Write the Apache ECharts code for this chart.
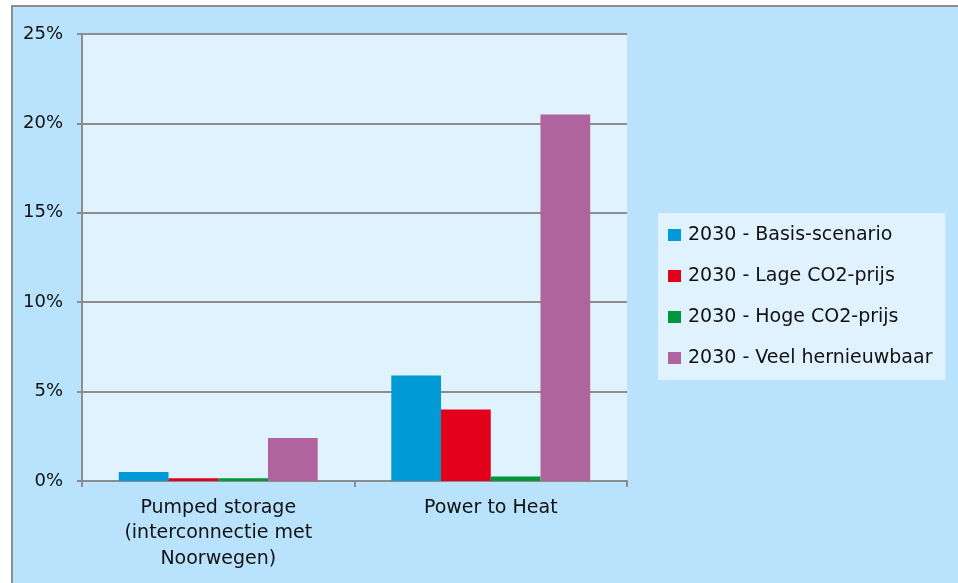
<!DOCTYPE html>
<html>
<head>
<meta charset="utf-8">
<script src="https://cdn.jsdelivr.net/npm/echarts@6/dist/echarts.min.js"></script>
<style>
  html, body { margin: 0; padding: 0; background: #ffffff; }
  #chart { width: 958px; height: 583px; }
</style>
</head>
<body>
<div id="chart"></div>
<script>
// Share of flexibility options per scenario (percent)
const categories = ['Pumped storage\n(interconnectie met\nNoorwegen)', 'Power to Heat'];
const seriesNames = [
  '2030 - Basis-scenario',
  '2030 - Lage CO2-prijs',
  '2030 - Hoge CO2-prijs',
  '2030 - Veel hernieuwbaar'
];
const basis = [0.5, 5.9];
const lageCO2 = [0.15, 4.0];
const hogeCO2 = [0.15, 0.25];
const veelHernieuwbaar = [2.4, 20.5];
const yTicks = { min: 0, max: 25, interval: 5 };

const colors = ['#009ad6', '#e2001a', '#00963c', '#b0649e'];
const values = [basis, lageCO2, hogeCO2, veelHernieuwbaar];
const FONT = 'DejaVu Sans';

const chart = echarts.init(document.getElementById('chart'), null, { renderer: 'canvas' });

chart.setOption({
  animation: false,
  backgroundColor: '#ffffff',
  graphic: [
    {
      // outer chart panel fill
      type: 'rect',
      z: -10,
      silent: true,
      shape: { x: 12, y: 6, width: 1100, height: 700 },
      style: { fill: '#b9e3fd' }
    },
    {
      // panel frame: only the top and left edges fall inside the canvas
      type: 'polyline',
      z: -9,
      silent: true,
      shape: { points: [[12, 700], [12, 6], [1100, 6]] },
      style: { fill: null, stroke: '#8c8c8c', lineWidth: 2 }
    }
  ],
  grid: {
    left: 82, right: 331, top: 34, bottom: 102,
    show: true,
    backgroundColor: '#e0f2fe',
    borderWidth: 0
  },
  legend: {
    orient: 'vertical',
    left: 658,
    top: 213,
    padding: [12, 13, 12, 10],
    backgroundColor: '#e0f2fe',
    itemWidth: 13,
    itemHeight: 12,
    itemGap: 21,
    icon: 'rect',
    data: seriesNames,
    textStyle: { fontFamily: FONT, fontSize: 19, color: '#111', lineHeight: 20, padding: [0, 0, 0, 2] }
  },
  xAxis: {
    type: 'category',
    data: categories,
    axisLine: { show: true, lineStyle: { color: '#8c8c8c', width: 2 } },
    axisTick: { show: true, length: 6, lineStyle: { color: '#8c8c8c', width: 2 } },
    axisLabel: {
      fontFamily: FONT, fontSize: 19, color: '#111',
      lineHeight: 25.5, margin: 14, interval: 0
    }
  },
  yAxis: {
    type: 'value',
    min: yTicks.min, max: yTicks.max, interval: yTicks.interval,
    axisLine: { show: true, lineStyle: { color: '#8c8c8c', width: 2 } },
    axisTick: { show: true, length: 5, lineStyle: { color: '#8c8c8c', width: 2 } },
    splitLine: { show: true, lineStyle: { color: '#8c8c8c', width: 2 } },
    axisLabel: {
      formatter: '{value}%',
      fontFamily: FONT, fontSize: 18, color: '#111', margin: 19
    }
  },
  series: seriesNames.map((name, i) => ({
    name: name,
    type: 'bar',
    data: values[i],
    barGap: '0%',
    barCategoryGap: '27%',
    itemStyle: { color: colors[i] }
  }))
});
</script>
</body>
</html>
